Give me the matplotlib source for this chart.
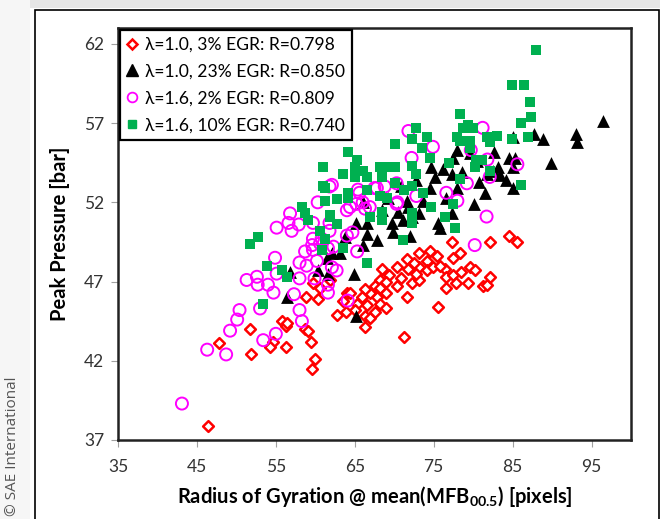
import matplotlib
matplotlib.use("Agg")
import matplotlib.pyplot as plt
from matplotlib.patches import Rectangle
from matplotlib.lines import Line2D

plt.rcParams['font.family'] = ['Lato', 'DejaVu Sans']
plt.rcParams['mathtext.fontset'] = 'custom'
plt.rcParams['mathtext.rm'] = 'Lato'
plt.rcParams['mathtext.bf'] = 'Lato:bold'

# ---------------- data ----------------
red_x = [46.4, 47.8, 51.7, 51.8, 55.8, 56.3, 54.6, 54.2, 56.3, 58.7, 59.1, 59.4, 59.9, 59.6,
         58.8, 60.3, 59.7, 62.7, 84.6, 85.5, 82.1, 77.3, 78.3, 77.5, 75.4, 73.1, 74.1, 71.6,
         70.4, 71.7, 73.2, 74.2, 74.9, 76.4, 76.6, 77.4, 78.5, 79.6, 80.2, 79.4, 81.2, 81.8,
         82.1, 76.5, 77.8, 75.6, 68.5, 69.4, 68.2, 69.0, 70.3, 71.6, 72.3, 73.2, 67.5, 68.2,
         69.0, 67.8, 66.9, 66.3, 65.9, 68.2, 69.0, 66.5, 65.3, 64.0, 63.5, 65.0, 66.3, 66.9,
         67.5, 66.3, 71.3, 60.6, 61.8, 56.4, 64.4, 63.9, 72.5, 74.5, 70.8, 72.8, 75.8]
red_y = [37.9, 43.1, 44.0, 42.4, 44.5, 44.2, 43.2, 42.9, 42.9, 44.0, 43.9, 43.2, 42.1, 41.5,
         46.0, 45.9, 46.9, 44.9, 49.9, 49.5, 49.5, 49.5, 48.8, 48.5, 48.6, 48.8, 48.3, 48.4,
         47.9, 47.8, 47.9, 47.7, 47.9, 47.8, 47.3, 47.4, 47.6, 47.9, 47.7, 46.9, 46.7, 46.8,
         47.3, 46.6, 46.9, 45.4, 47.8, 47.4, 47.1, 47.0, 46.7, 46.0, 46.9, 47.1, 46.7, 46.6,
         46.3, 46.0, 46.3, 46.5, 46.0, 45.6, 45.3, 45.5, 45.6, 46.3, 45.8, 45.2, 44.8, 44.7,
         45.1, 44.1, 43.5, 46.6, 47.1, 44.4, 46.3, 45.1, 48.2, 48.9, 47.2, 47.5, 48.0]

black_x = [96.4, 93.0, 93.1, 89.9, 87.7, 88.8, 85.0, 82.7, 84.6, 85.3, 85.0, 83.1, 83.4, 85.0,
           80.1, 78.0, 77.5, 77.3, 77.9, 76.6, 77.3, 75.6, 74.5, 74.7, 73.6, 71.7, 71.1, 69.8,
           73.2, 79.6, 81.8, 80.8, 75.8, 71.6, 72.2, 69.7, 72.0, 70.8, 66.5, 65.1, 63.7, 66.0,
           64.9, 61.5, 60.4, 61.6, 56.8, 56.4, 65.1, 66.6, 62.1, 66.0, 63.1, 68.5, 69.2, 67.8,
           70.5, 72.8, 75.2, 76.2, 78.6, 80.5, 81.5, 82.5, 84.2]
black_y = [57.1, 56.3, 55.8, 54.5, 56.3, 56.0, 56.1, 55.2, 54.8, 54.8, 54.2, 54.2, 53.7, 52.9,
           51.9, 55.3, 54.8, 53.8, 52.9, 52.3, 51.3, 50.7, 52.9, 54.2, 52.1, 51.7, 50.9, 50.1,
           51.3, 55.1, 53.8, 53.3, 50.4, 52.1, 51.1, 50.7, 49.9, 53.0, 50.7, 50.7, 49.8, 49.3,
           47.5, 48.5, 47.7, 47.5, 47.6, 46.0, 44.8, 50.0, 48.8, 52.0, 48.8, 51.5, 52.3, 49.6,
           51.4, 53.4, 53.6, 54.1, 53.9, 54.6, 52.6, 54.0, 53.4]

mag_x = [43.1, 46.3, 48.7, 49.2, 50.1, 50.4, 53.0, 53.4, 55.0, 58.0, 58.3, 57.3, 54.7, 54.0,
         52.7, 51.3, 61.6, 64.1, 61.8, 60.3, 55.1, 56.6, 57.0, 57.9, 59.7, 61.8, 61.8, 59.7,
         59.6, 59.7, 58.7, 58.0, 58.9, 60.2, 54.9, 55.1, 52.6, 58.0, 59.9, 61.6, 62.3, 64.0,
         64.7, 64.0, 64.4, 65.6, 66.3, 67.5, 65.2, 60.8, 60.6, 62.1, 62.7, 61.6, 67.8, 68.8,
         70.3, 70.4, 72.8, 76.6, 78.0, 79.2, 81.7, 80.2, 66.0, 66.9, 65.3, 56.8, 71.8, 74.9,
         81.2, 79.7, 81.8, 82.1, 85.6, 70.3, 72.2, 62.1, 65.4]
mag_y = [39.3, 42.7, 42.4, 43.9, 44.6, 45.2, 45.3, 43.3, 43.7, 45.2, 44.5, 46.2, 46.3, 46.8,
         46.8, 47.1, 46.3, 45.8, 53.0, 52.0, 50.4, 50.7, 50.2, 50.6, 50.7, 50.7, 50.2, 49.7,
         49.3, 49.0, 48.9, 48.2, 48.0, 48.3, 48.5, 47.5, 47.3, 47.2, 47.2, 49.1, 49.2, 49.9,
         50.1, 51.5, 51.7, 52.6, 51.6, 52.9, 51.9, 49.7, 49.4, 47.9, 47.7, 46.8, 52.9, 53.0,
         53.2, 52.0, 52.4, 52.6, 52.1, 53.2, 51.1, 49.3, 52.0, 51.7, 48.9, 51.3, 56.5, 55.5,
         56.7, 55.3, 54.7, 53.6, 54.4, 51.9, 54.8, 53.1, 52.8]

green_x = [88.0, 84.9, 86.5, 87.2, 87.3, 86.0, 86.9, 78.3, 79.3, 78.7, 80.0, 77.9, 78.3, 79.6,
           81.7, 83.0, 82.1, 79.6, 84.9, 77.0, 80.4, 81.1, 80.2, 82.1, 78.3, 86.1, 77.4, 76.4,
           77.7, 72.8, 74.2, 72.3, 70.1, 73.5, 74.5, 72.3, 72.8, 70.1, 68.8, 72.3, 71.3, 73.6,
           69.1, 74.7, 72.2, 72.3, 64.1, 61.0, 65.3, 63.5, 65.0, 66.0, 68.2, 65.0, 66.5, 68.5,
           70.1, 61.0, 61.2, 62.7, 64.1, 64.1, 61.2, 66.5, 58.3, 58.7, 59.1, 61.9, 62.8, 60.6,
           61.2, 52.7, 51.7, 60.8, 63.5, 66.5, 53.9, 55.8, 56.4, 68.2, 66.9, 68.5, 68.5, 71.1,
           61.8, 53.4]
green_y = [61.6, 59.4, 59.4, 58.3, 57.4, 57.0, 56.1, 57.6, 56.9, 56.7, 56.7, 56.1, 55.9, 55.9,
           56.1, 56.2, 55.8, 55.4, 56.0, 54.5, 54.7, 54.7, 54.2, 54.0, 53.5, 53.1, 51.9, 51.1,
           50.4, 56.7, 56.1, 56.0, 55.7, 55.4, 54.8, 54.3, 53.8, 54.2, 54.2, 53.0, 52.8, 52.6,
           52.3, 51.7, 51.3, 50.7, 55.2, 54.2, 54.7, 53.8, 54.2, 54.0, 54.2, 53.6, 53.6, 53.6,
           53.2, 53.0, 52.9, 52.2, 52.6, 52.3, 52.1, 52.8, 51.7, 51.3, 50.9, 51.2, 50.6, 50.2,
           49.7, 49.8, 49.4, 49.0, 49.1, 48.2, 48.0, 47.7, 47.3, 52.4, 51.1, 51.4, 50.9, 49.6,
           51.1, 45.6]

labels = ["λ=1.0, 3% EGR: R=0.798", "λ=1.0, 23% EGR: R=0.850",
          "λ=1.6, 2% EGR: R=0.809", "λ=1.6, 10% EGR: R=0.740"]
x_ticks = [35, 45, 55, 65, 75, 85, 95]
y_ticks = [37, 42, 47, 52, 57, 62]

# ---------------- figure ----------------
fig = plt.figure(figsize=(6.6, 5.19), dpi=100)
W, H = 660, 519

# background decorations (grey strips and outer chart frame)
fig.patches.append(Rectangle((0, 1 - 8 / H), 1, 8 / H, transform=fig.transFigure,
                             facecolor='#e6e6e6', edgecolor='none', zorder=-3))
fig.patches.append(Rectangle((0, 0), 30 / W, 1, transform=fig.transFigure,
                             facecolor='#f6f6f6', edgecolor='none', zorder=-3))
fig.patches.append(Rectangle((35 / W, -0.01), 624 / W, (519 - 10) / H + 0.01,
                             transform=fig.transFigure, facecolor='white',
                             edgecolor='black', linewidth=1.2, zorder=-2))
fig.text(13 / W, 3 / H, "© SAE International", rotation=90, ha='center', va='bottom',
         fontsize=11, color='#555555', family=['Open Sans', 'DejaVu Sans'])

ax = fig.add_axes([118 / W, 1 - 440 / H, (631 - 118) / W, (440 - 28) / H], zorder=2)
ax.set_xlim(35, 100)
ax.set_ylim(37, 63)

ax.scatter(red_x, red_y, marker='D', s=30, facecolors='white', edgecolors='#ff0000',
           linewidths=1.8, zorder=3)
ax.scatter(black_x, black_y, marker='^', s=85, color='black', linewidths=0, zorder=4)
ax.scatter(mag_x, mag_y, marker='o', s=75, facecolors='none', edgecolors='#ff00ff',
           linewidths=1.4, zorder=5)
ax.scatter(green_x, green_y, marker='s', s=42, color='#00b050', linewidths=0, zorder=6)

ax.set_xticks(x_ticks)
ax.set_yticks(y_ticks)
ax.tick_params(axis='both', direction='out', length=5, width=0.8, color='#a0a0a0',
               labelsize=12.5, labelcolor='#333333', pad=5)
ax.tick_params(axis='x', pad=9)
for sp in ax.spines.values():
    sp.set_linewidth(1.8)
    sp.set_color('#222222')

ax.set_xlabel(r"Radius of Gyration @ mean(MFB$_{\mathbf{00.5}}$) [pixels]",
              fontsize=14.5, fontweight='bold', labelpad=6)
ax.set_ylabel("Peak Pressure [bar]", fontsize=14.5, fontweight='bold', labelpad=10)

handles = [
    Line2D([], [], marker='D', ls='none', markersize=5.5, markerfacecolor='white',
           markeredgecolor='#ff0000', markeredgewidth=1.8),
    Line2D([], [], marker='^', ls='none', markersize=8, color='black'),
    Line2D([], [], marker='o', ls='none', markersize=7, markerfacecolor='none',
           markeredgecolor='#ff00ff', markeredgewidth=1.3),
    Line2D([], [], marker='s', ls='none', markersize=6, color='#00b050'),
]
leg = ax.legend(handles, labels, loc='upper left', bbox_to_anchor=(0.004, 0.996),
                borderaxespad=0, frameon=True, fancybox=False, fontsize=12.6,
                handlelength=0.6, handletextpad=0.4, labelspacing=0.62,
                borderpad=0.4, framealpha=1)
leg.get_frame().set_edgecolor('black')
leg.get_frame().set_linewidth(1.6)

fig.savefig("out.png", dpi=100)
